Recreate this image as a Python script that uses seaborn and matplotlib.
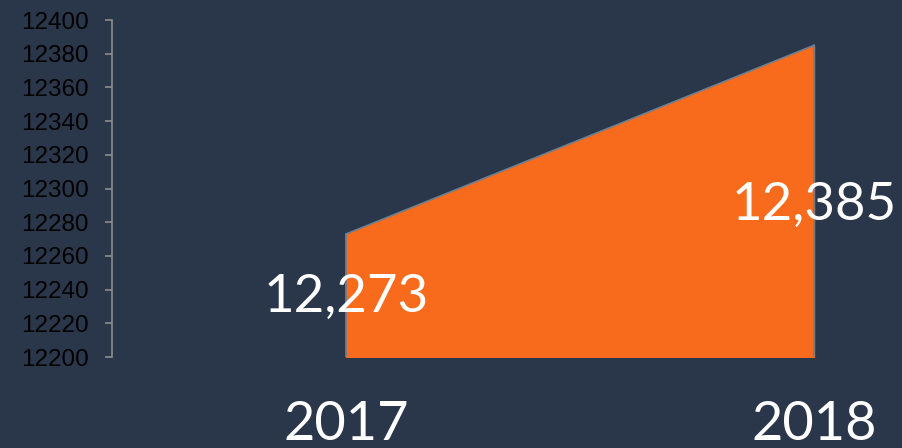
import matplotlib
matplotlib.use("Agg")
import matplotlib.pyplot as plt
import seaborn as sns
import pandas as pd

years = ["2017", "2018"]
values = [12273, 12385]
labels = ["12,273", "12,385"]
yticks = [12200, 12220, 12240, 12260, 12280, 12300, 12320, 12340, 12360, 12380, 12400]

BG = "#2a374a"
ORANGE = "#f96b1c"

sns.set_theme(style="white")
plt.rcParams["font.family"] = ["Liberation Sans", "DejaVu Sans"]

fig = plt.figure(figsize=(9.03, 4.48), dpi=100, facecolor=BG)
W, H = 903, 448
ax = fig.add_axes([112 / W, 1 - 357 / H, 936 / W, (357 - 20) / H])
ax.set_facecolor(BG)

df = pd.DataFrame({"x": [0, 1], "v": values})
ax.fill_between(df["x"], 12200, df["v"], color=ORANGE, zorder=2)
sns.lineplot(data=df, x="x", y="v", ax=ax, color="#6b7f92", linewidth=1.2, zorder=3)
ax.plot([0, 0], [12200, values[0]], color="#6b7f92", lw=1.2, zorder=3)
ax.plot([1, 1], [12200, values[1]], color="#6b7f92", lw=1.2, zorder=3)

ax.set_xlim(-0.5, 1.5)
ax.set_ylim(12200, 12400)
ax.set_yticks(yticks)
ax.set_yticklabels([str(t) for t in yticks], fontsize=17.5, color="black")
ax.set_xticks([0, 1])
ax.set_xticklabels(years, fontsize=39, color="white", family=["Lato", "DejaVu Sans"])
ax.tick_params(axis="x", length=0, pad=31)
ax.tick_params(axis="y", length=5, width=1.2, color="#8c8c8c", left=True, pad=12)
ax.set_xlabel("")
ax.set_ylabel("")
for s in ["top", "right", "bottom"]:
    ax.spines[s].set_visible(False)
ax.spines["left"].set_color("#8c8c8c")
ax.spines["left"].set_linewidth(1.2)

label_y = [12235.6, 12290.0]
for i, (lab, ly) in enumerate(zip(labels, label_y)):
    ax.text(i, ly, lab, ha="center", va="center", fontsize=38, color="white",
            family=["Lato", "DejaVu Sans"], zorder=5)

fig.savefig("out.png", dpi=100, facecolor=BG)
